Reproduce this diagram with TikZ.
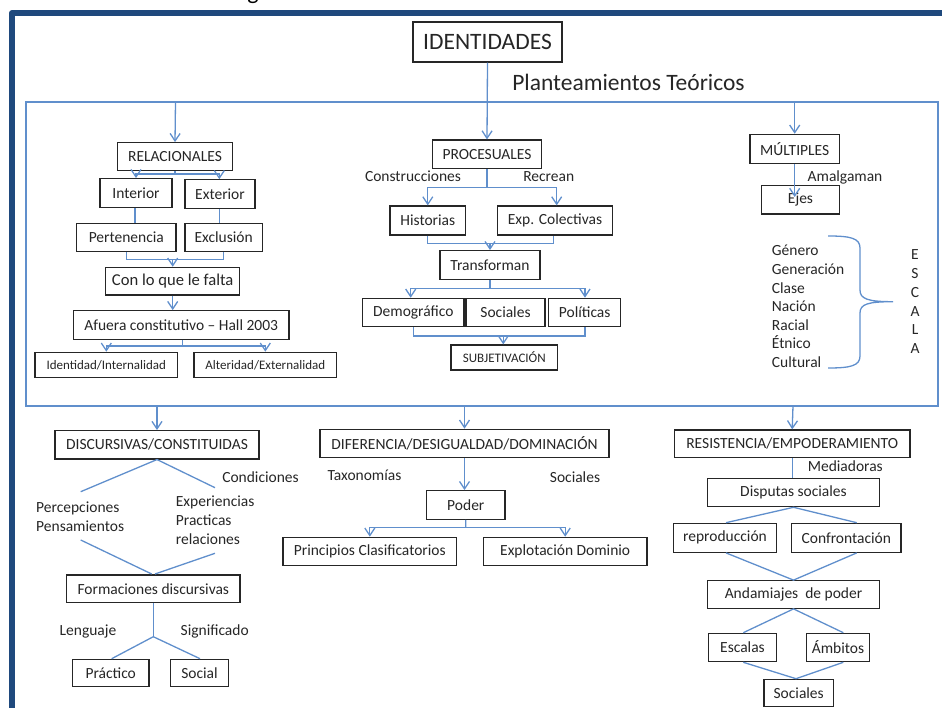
\documentclass[tikz,border=0pt]{standalone}
\usepackage{fontspec}
\setmainfont{Carlito}
\usetikzlibrary{arrows.meta,calc}
\definecolor{framebl}{RGB}{31,73,125}
\definecolor{linebl}{RGB}{96,143,204}
\definecolor{ink}{RGB}{38,38,38}
\tikzset{
  bx/.style={draw=ink, line width=1.2pt, fill=white, inner sep=0pt, text=ink,
             font=\fontsize{15.5}{18}\selectfont},
  sm/.style={font=\fontsize{13}{15}\selectfont},
  lbl/.style={text=ink, inner sep=0pt, font=\fontsize{15.5}{18.6}\selectfont},
  conn/.style={draw=linebl, line width=1.3pt},
  arr/.style={conn, -{Straight Barb[length=7.5pt,width=10pt]}},
}
\newcommand{\bxat}[6]{\node[bx,#6,minimum width=#4pt,minimum height=#5pt] (#1) at (#2,#3)}
\begin{document}
\begin{tikzpicture}[x=1pt,y=-1pt]
\useasboundingbox (0,0) rectangle (942,708);

% heading line cut by the frame
\node[anchor=base, inner sep=0pt, text=black, font=\fontsize{24}{24}\selectfont] (gtail) at (253,0) {g};

% outer frame
\draw[framebl, line width=6pt, line join=round] (950,13) -- (12,13) -- (12,716);

% container of the theoretical approaches
\draw[conn] (26,102) rectangle (938,406);
\coordinate (t1) at (175.5,102);
\coordinate (t3) at (794.7,102);
\coordinate (b1) at (157,406);
\coordinate (b2) at (464.5,406);
\coordinate (b3) at (793,406);

% title
\bxat{ident}{487.5}{42}{149}{40}{font=\fontsize{23.5}{26}\selectfont}{IDENTIDADES};
\node[lbl, font=\fontsize{23.5}{26}\selectfont] (plant) at (628.5,82) {Planteamientos Teóricos};

% ---------- RELACIONALES ----------
\bxat{rel}{175}{156.7}{114.6}{28}{}{RELACIONALES};
\bxat{int}{136}{193}{72}{28.6}{}{Interior};
\bxat{ext}{220}{194}{70}{28.4}{}{Exterior};
\bxat{pert}{126.3}{237.5}{99.3}{28.4}{}{Pertenencia};
\bxat{excl}{223.7}{237.5}{77.3}{28.4}{}{Exclusión};
\bxat{falta}{172.7}{281.2}{134}{27.7}{font=\fontsize{16.6}{19}\selectfont}{Con lo que le falta};
\bxat{afuera}{181.2}{325}{215.7}{28.6}{}{Afuera constitutivo -- Hall 2003};
\bxat{idint}{106.3}{364.8}{142.7}{25}{sm}{Identidad/Internalidad};
\bxat{alter}{265.3}{364.8}{142.7}{25}{sm}{Alteridad/Externalidad};

\draw[arr] (t1) -- (rel.north);
\coordinate (relj) at (175,174);
\draw[conn] (rel.south) -- (relj);
\draw[arr] (relj) -| (int.north);
\draw[arr] (relj) -| ([xshift=-0.7pt]ext.north);
\draw[conn] ([xshift=-1pt]int.south) -- ([xshift=-1pt]int.south |- pert.north);
\draw[conn] ([xshift=-0.7pt]ext.south) -- ([xshift=-0.7pt]ext.south |- excl.north);
\coordinate (pej) at (172.7,259.3);
\draw[conn] (pert.south) |- (pej) -| (excl.south);
\draw[arr] (pej) -- (falta.north);
\draw[arr] (falta.south) -- (falta.south |- afuera.north);
\coordinate (afj) at (182.3,346);
\draw[conn] ([xshift=1.1pt]afuera.south) -- (afj);
\draw[arr] (afj) -| (idint.north);
\draw[arr] (afj) -| (alter.north);

% ---------- PROCESUALES ----------
\bxat{proc}{487}{154.2}{109.4}{28.3}{}{PROCESUALES};
\bxat{hist}{427.8}{220.5}{75.7}{29}{}{Historias};
\bxat{expc}{555}{220.5}{114.6}{29}{}{Exp. Colectivas};
\bxat{transf}{490}{265}{100}{28.6}{}{Transforman};
\bxat{demo}{413.3}{312.5}{101.3}{28.4}{}{Demográfico};
\bxat{soc}{505.5}{312.5}{79}{28.4}{}{Sociales};
\bxat{pol}{584.7}{312.5}{72}{28.4}{}{Políticas};
\bxat{subj}{504.3}{357.5}{106.7}{25}{sm}{SUBJETIVACIÓN};
\node[lbl] (constr) at (413,176.7) {Construcciones};
\node[lbl] (recrean) at (548.7,176.7) {Recrean};

\draw[arr] (ident.south) -- (proc.north);
\coordinate (prj) at (487,187.3);
\draw[conn] (proc.south) -- (prj);
\draw[arr] (prj) -| (hist.north);
\draw[arr] (prj) -| ([xshift=1.7pt]expc.north);
\coordinate (hej) at (490,243.3);
\draw[conn] (hist.south) |- (hej) -| ([xshift=-1.7pt]expc.south);
\draw[arr] (hej) -- (transf.north);
\coordinate (trj) at (490,288.3);
\draw[conn] (transf.south) -- (trj);
\draw[arr] (trj) -| ([xshift=-2.6pt]demo.north);
\draw[arr] (trj) -| ([xshift=0.3pt]pol.north);
\coordinate (dpj) at (503.3,336);
\draw[conn] (demo.south) |- (dpj) -| ([xshift=0.3pt]pol.south);
\draw[arr] (dpj) -- (dpj |- subj.north);

% ---------- MULTIPLES ----------
\bxat{mult}{794.7}{148.8}{89.3}{29}{}{MÚLTIPLES};
\bxat{ejes}{800.5}{199.8}{77.6}{28.3}{}{Ejes};
\node[lbl] (amalg) at (845,177) {Amalgaman};
\coordinate (ejtip) at (794.7,197);
\draw[arr] (t3) -- (mult.north);
\draw[arr] (mult.south) -- (ejtip);
\node[lbl, align=left, anchor=west] (ejelist) at (771.7,306.5)
  {Género\\Generación\\Clase\\Nación\\Racial\\Étnico\\Cultural};
\node[lbl, align=center, font=\fontsize{15.5}{18.67}\selectfont] (escala) at (915,301.7)
  {E\\S\\C\\A\\L\\A};
\draw[conn] (828,236) .. controls (850,236) and (860,238) .. (860,248)
  -- (860,290) .. controls (860,299) and (868,301.7) .. (893,301.7)
  .. controls (868,301.7) and (860,304) .. (860,313)
  -- (860,356) .. controls (860,366) and (850,368) .. (828,368);

% ---------- DISCURSIVAS/CONSTITUIDAS ----------
\bxat{disc}{157}{444.8}{204}{28.3}{}{DISCURSIVAS/CONSTITUIDAS};
\bxat{form}{153.3}{588.7}{173.3}{27.3}{}{Formaciones discursivas};
\bxat{prac}{110.7}{673}{76.7}{27.4}{}{Práctico};
\bxat{socl}{199.5}{673}{57.6}{27.4}{}{Social};
\node[lbl] (cond) at (260.5,477.3) {Condiciones};
\node[lbl, align=left, anchor=west] (percep) at (36,516.5) {Percepciones\\Pensamientos};
\node[lbl, align=left, anchor=west, font=\fontsize{15.5}{18.8}\selectfont] (exper) at (175.7,520.5)
  {Experiencias\\Practicas\\relaciones};
\node[lbl] (leng) at (88,631.7) {Lenguaje};
\node[lbl] (signif) at (214.7,631.7) {Significado};
\draw[arr] (b1) -- (disc.north);
\coordinate (dl1) at (80.7,491.7);
\coordinate (dr1) at (215,487.7);
\coordinate (dl2) at (80.7,540);
\coordinate (dr2) at (215,553.3);
\coordinate (fl) at (151.7,574);
\coordinate (fr) at (155,574);
\coordinate (fj) at (153.3,636.7);
\draw[conn] (dl1) -- (disc.south) -- (dr1);
\draw[conn] (dl2) -- (fl);
\draw[conn] (dr2) -- (fr);
\draw[conn] (form.south) -- (fj);
\draw[conn] ([xshift=1pt]prac.north) -- (fj) -- ([xshift=0.5pt]socl.north);

% ---------- DIFERENCIA/DESIGUALDAD/DOMINACION ----------
\bxat{dif}{464.5}{443.5}{289}{28.4}{}{DIFERENCIA/DESIGUALDAD/DOMINACIÓN};
\bxat{poder}{465.8}{505}{78.3}{28.6}{}{Poder};
\bxat{princ}{369.8}{551.5}{173.7}{28.4}{}{Principios Clasificatorios};
\bxat{explo}{565.2}{551.5}{163.7}{28.4}{}{Explotación Dominio};
\node[lbl] (taxo) at (364.5,475) {Taxonomías};
\node[lbl] (socs) at (575,476.7) {Sociales};
\draw[arr] (b2) -- (dif.north);
\draw[arr] (dif.south) -- (dif.south |- poder.north);
\coordinate (poj) at (465.7,527.3);
\draw[conn] (poder.south) -- (poj);
\draw[arr] (poj) -| (princ.north);
\draw[arr] (poj) -| (explo.north);

% ---------- RESISTENCIA/EMPODERAMIENTO ----------
\bxat{res}{792.2}{443.8}{235.7}{27.7}{}{RESISTENCIA/EMPODERAMIENTO};
\bxat{disp}{793.5}{492.5}{171.6}{28.4}{}{Disputas sociales};
\bxat{repro}{725}{537.8}{103.4}{29}{}{reproducción};
\bxat{confr}{846.3}{537.8}{109.3}{29}{}{Confrontación};
\bxat{anda}{793.5}{594.5}{171.6}{27.6}{}{Andamiajes~ de poder};
\bxat{escal}{742.5}{647.5}{68.4}{28.4}{}{Escalas};
\bxat{ambit}{838}{647.5}{62.6}{28.4}{}{Ámbitos};
\bxat{socr}{798.7}{693}{69.3}{27.4}{}{Sociales};
\node[lbl] (media) at (845.3,466) {Mediadoras};
\draw[arr] (b3) -- (res.north);
\draw[conn] (res.south) -- (res.south |- disp.north);
\draw[conn] ([xshift=1pt]repro.north) -- (disp.south) -- ([xshift=10.4pt]confr.north);
\draw[conn] ([xshift=1pt]repro.south) -- (anda.north) -- ([xshift=10.4pt]confr.south);
\draw[conn] ([xshift=0.8pt]escal.north) -- (anda.south) -- ([xshift=5.3pt]ambit.north);
\draw[conn] ([xshift=0.8pt]escal.south) -- ([xshift=-2.7pt]socr.north) -- ([xshift=5.3pt]ambit.south);
\end{tikzpicture}
\end{document}
